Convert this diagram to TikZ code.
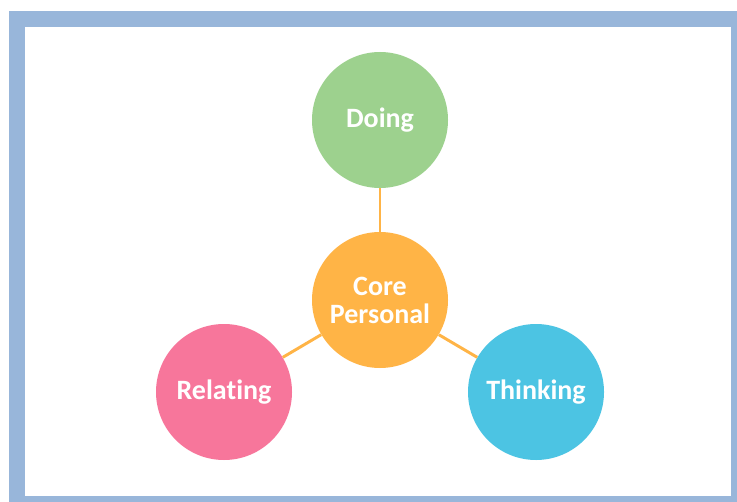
\documentclass[tikz,border=0pt]{standalone}
\usepackage{fontspec}
\setmainfont[Ligatures={NoCommon}]{Carlito}
\definecolor{framebl}{HTML}{98B6DA}
\definecolor{doingc}{HTML}{9DD18E}
\definecolor{corec}{HTML}{FFB446}
\definecolor{relc}{HTML}{F7769B}
\definecolor{thinkc}{HTML}{4CC4E3}
\begin{document}
\begin{tikzpicture}[x=0.75pt,y=-0.75pt,
  bubble/.style={circle,minimum size=102pt,inner sep=0pt,text=white,
    font=\fontsize{21}{21}\selectfont\bfseries,align=center},
  link/.style={corec,line width=2.2pt}]
\useasboundingbox (0,0) rectangle (737,502);
\fill[white] (0,0) rectangle (737,502);
\fill[framebl] (9,11) rectangle (737,502);
\fill[white] (25,27) rectangle (731,496);
\node[bubble,fill=doingc] (doing) at (380,120) {Doing};
\node[bubble,fill=corec] (core) at (380,300) {Core\\Personal};
\node[bubble,fill=relc] (relating) at (224,392) {Relating};
\node[bubble,fill=thinkc] (thinking) at (536,392) {Thinking};
\foreach \n in {doing,relating,thinking}
\draw[link] (core) -- (\n);
\end{tikzpicture}
\end{document}
